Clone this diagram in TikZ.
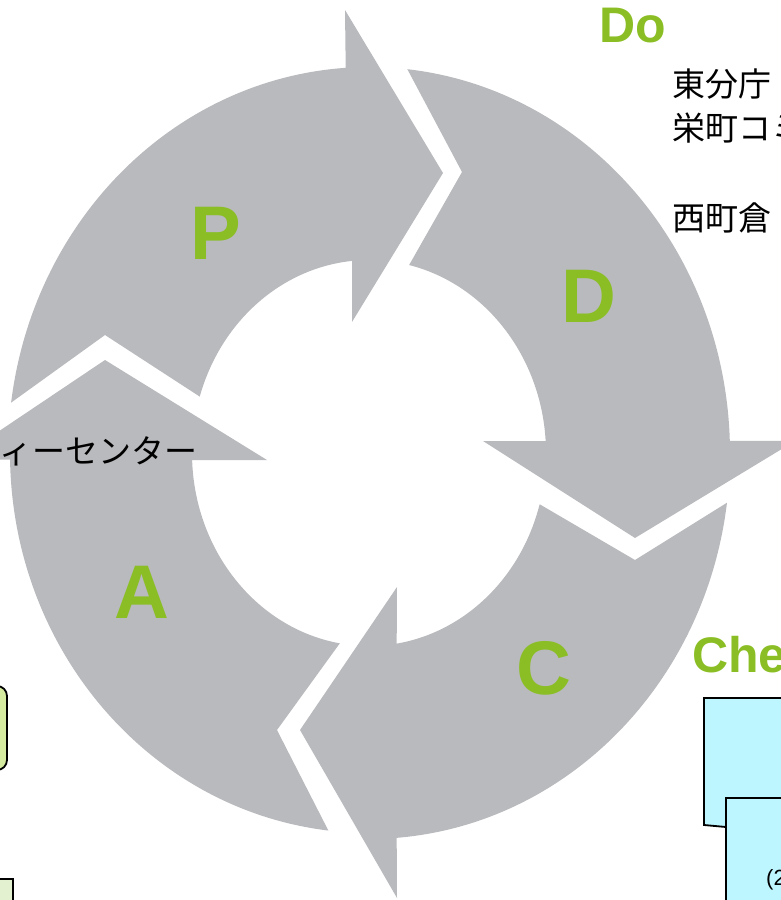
\documentclass[tikz,border=0pt]{standalone}
\usepackage{fontspec}
\setmainfont{Liberation Sans}
\newfontfamily\jpfont{Noto Sans CJK JP}
\definecolor{arrgray}{RGB}{185,186,189}
\definecolor{pdcagreen}{RGB}{138,190,36}
\definecolor{boxgreen}{RGB}{212,235,160}
\definecolor{boxlightgreen}{RGB}{228,241,208}
\definecolor{boxcyan}{RGB}{190,246,255}
\begin{document}
\begin{tikzpicture}[x=1pt,y=-1pt,
  arr/.style={fill=arrgray},
  bigletter/.style={text=pdcagreen,font=\fontsize{76}{76}\selectfont\bfseries,inner sep=0pt,anchor=base},
  phase/.style={text=pdcagreen,font=\fontsize{50}{50}\selectfont\bfseries,inner sep=0pt,anchor=base west},
  jptext/.style={font=\jpfont\fontsize{33}{33}\selectfont,inner sep=0pt,text=black},
  boxline/.style={draw=black,line width=1.8pt}]
\useasboundingbox (0,0) rectangle (781,900);
\clip (0,0) rectangle (781,900);
\coordinate (O) at (369,453);
% side boxes
\draw[boxline,fill=boxgreen,rounded corners=10pt] (-60,686) rectangle (7,770);
\draw[boxline,fill=boxlightgreen] (-60,879) rectangle (13,960);
\draw[boxline,fill=boxcyan] (704,698) -- (820,698) -- (820,830) -- (726,827) -- (704,825) -- cycle;
\draw[boxline,fill=boxcyan] (726,798) rectangle (820,960);
% P arrow
\fill[arr] ([shift={(O)}]-172.5:361 and 386) arc[start angle=-172.5,end angle=-93.7,x radius=361,y radius=386]
  -- (345,10) -- (443,173) -- (352,322)
  -- ([shift={(O)}]-95.5:177 and 193) arc[start angle=-95.5,end angle=-163,x radius=177,y radius=193]
  -- (105,335) -- cycle;
% D arrow
\fill[arr] ([shift={(O)}]-83.9:361 and 386) arc[start angle=-83.9,end angle=-1.8,x radius=361,y radius=386]
  -- (795,441) -- (635,538) -- (483,441)
  -- ([shift={(O)}]-3.5:177 and 193) arc[start angle=-3.5,end angle=-76.9,x radius=177,y radius=193]
  -- (462,172) -- cycle;
% C arrow
\fill[arr] ([shift={(O)}]7.4:361 and 386) arc[start angle=7.4,end angle=85.6,x radius=361,y radius=386]
  -- (397,898) -- (300,730) -- (397,587)
  -- ([shift={(O)}]81:177 and 193) arc[start angle=81,end angle=15.4,x radius=177,y radius=193]
  -- (635,560) -- cycle;
% A arrow
\fill[arr] ([shift={(O)}]96.5:359 and 380) arc[start angle=96.5,end angle=179,x radius=359,y radius=380]
  -- (-44,460) -- (105,360) -- (267,460)
  -- ([shift={(O)}]177.9:177 and 193) arc[start angle=177.9,end angle=99.5,x radius=177,y radius=193]
  -- (277,730) -- cycle;
% letters
\node[bigletter] (lp) at (216,259) {P};
\node[bigletter] (ld) at (589,322) {D};
\node[bigletter] (lc) at (544,694) {C};
\node[bigletter] (la) at (141.5,618) {A};
% phase titles
\node[phase] (tdo) at (599,42) {Do};
\node[phase] (tcheck) at (692,672) {Check};
% texts
\node[jptext,anchor=base west] (j1) at (672,96) {東分庁};
\node[jptext,anchor=base west] (j2) at (672,140) {栄町コミュニティーセンター};
\node[jptext,anchor=base west] (j3) at (672,230) {西町倉};
\node[jptext,anchor=base east] (j4) at (198,463) {コミュニティーセンター};
\node[anchor=base west,inner sep=0pt,font=\fontsize{22}{22}\selectfont] (paren) at (766,885) {(2};
\end{tikzpicture}
\end{document}
